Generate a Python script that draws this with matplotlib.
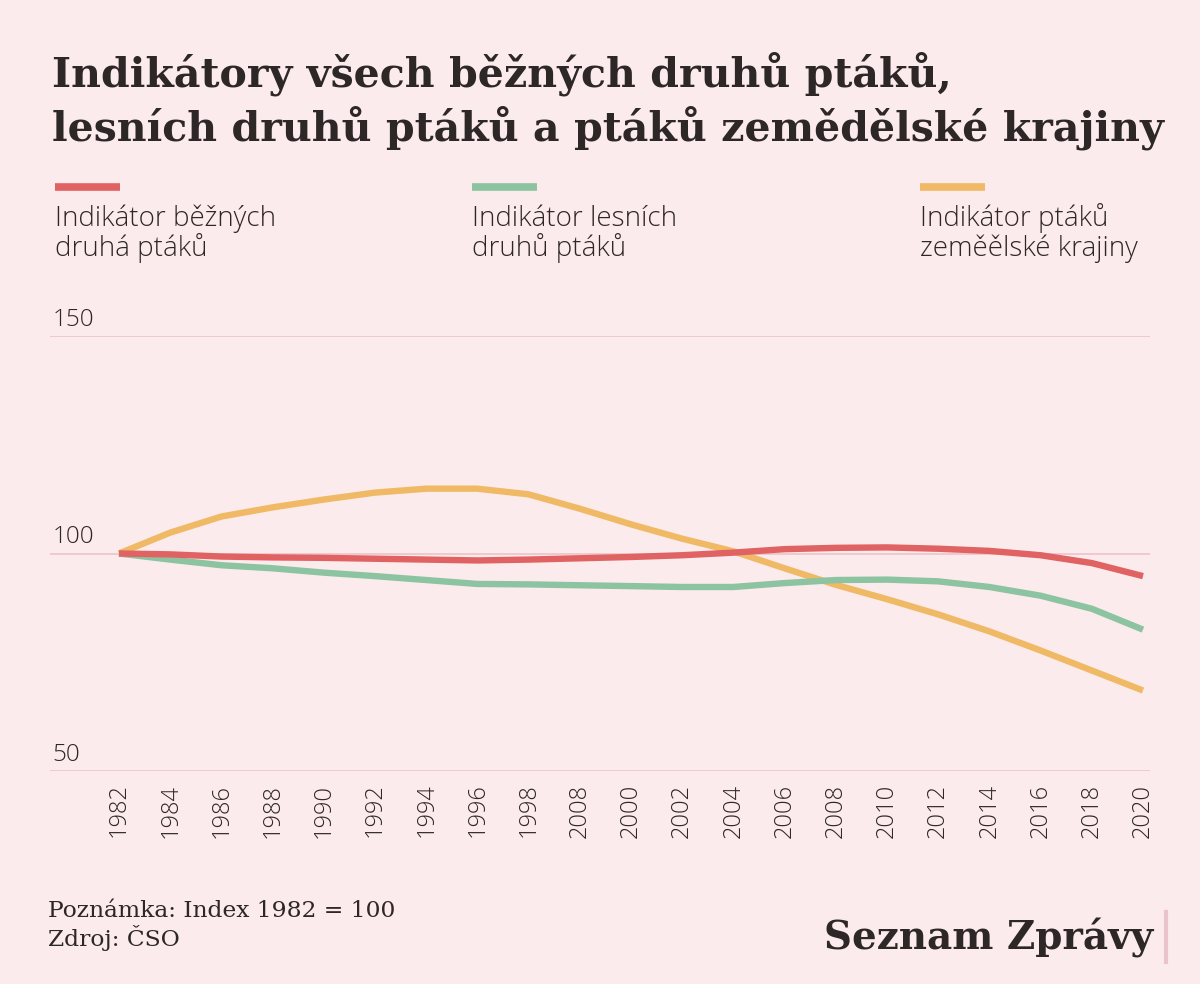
import matplotlib
matplotlib.use("Agg")
import matplotlib.pyplot as plt
from matplotlib.lines import Line2D
import matplotlib.transforms as mtransforms

# ---- data ----
years = ["1982", "1984", "1986", "1988", "1990", "1992", "1994", "1996", "1998", "2008",
         "2000", "2002", "2004", "2006", "2008", "2010", "2012", "2014", "2016", "2018", "2020"]
common_birds = [100, 99.8, 99.3, 99.1, 99.0, 98.8, 98.6, 98.4, 98.6, 98.9,
                99.2, 99.6, 100.2, 101.0, 101.3, 101.4, 101.1, 100.6, 99.6, 97.8, 94.8]
forest_birds = [100, 98.6, 97.3, 96.6, 95.6, 94.8, 93.9, 93.0, 92.9, 92.7,
                92.5, 92.3, 92.3, 93.2, 93.9, 94.0, 93.6, 92.3, 90.3, 87.3, 82.5]
farmland_birds = [100, 104.8, 108.5, 110.6, 112.4, 114.0, 114.9, 114.9, 113.6, 110.3,
                  106.7, 103.4, 100.5, 96.6, 92.8, 89.5, 86.0, 82.1, 77.7, 73.1, 68.5]
series_labels = [["Indikátor běžných", "druhá ptáků"],
                 ["Indikátor lesních", "druhů ptáků"],
                 ["Indikátor ptáků", "zeměělské krajiny"]]
y_ticks = [50, 100, 150]

BG = "#fcebec"
RED = "#e06262"
GREEN = "#8cc3a1"
ORANGE = "#f0b966"
GRID = "#efc6cb"
TEXT = "#2e2727"

W, H = 1200, 984
fig = plt.figure(figsize=(W / 100, H / 100), dpi=100, facecolor=BG)

def fx(px):
    return px / W

def fy(py):
    return 1 - py / H

# axes spanning gridline area
left_px, right_px = 50, 1150
top_px, bot_px = 336, 771
ax = fig.add_axes([fx(left_px), fy(bot_px), fx(right_px - left_px), (bot_px - top_px) / H])
ax.set_facecolor(BG)
x = list(range(len(years)))
step = (1143 - 119) / 20
ax.set_xlim(-(119 - left_px) / step, 20 + (right_px - 1143) / step)
ax.set_ylim(50, 150)
for s in ax.spines.values():
    s.set_visible(False)

blend = mtransforms.blended_transform_factory(ax.transAxes, ax.transData)
for v in y_ticks:
    ax.axhline(v, color=GRID, lw=1.3, zorder=1)
    ax.text(0.002, v + 2.4, str(v), transform=blend, ha="left", va="baseline",
            fontsize=17.5, color=TEXT, fontfamily="Open Sans", fontweight="light")

lw = 4.6
ax.plot(x, farmland_birds, color=ORANGE, lw=lw, solid_capstyle="butt", solid_joinstyle="round", zorder=3, clip_on=False)
ax.plot(x, forest_birds, color=GREEN, lw=lw, solid_capstyle="butt", solid_joinstyle="round", zorder=3, clip_on=False)
ax.plot(x, common_birds, color=RED, lw=lw, solid_capstyle="butt", solid_joinstyle="round", zorder=4, clip_on=False)

ax.set_yticks([])
ax.set_xticks(x)
ax.set_xticklabels(years, rotation=90, fontsize=17, color=TEXT, fontfamily="Open Sans", fontweight="light")
ax.tick_params(axis="x", length=0, pad=9)

# title
title_kw = dict(fontsize=29.6, fontweight="bold", fontfamily="DejaVu Serif", color=TEXT, va="baseline", ha="left")
fig.text(fx(52), fy(86), "Indikátory všech běžných druhů ptáků,", **title_kw)
fig.text(fx(52), fy(141), "lesních druhů ptáků a ptáků zemědělské krajiny", **title_kw)

# legend
leg_x = [55, 472, 920]
colors = [RED, GREEN, ORANGE]
for lx, c, lab in zip(leg_x, colors, series_labels):
    fig.add_artist(Line2D([fx(lx), fx(lx + 65)], [fy(187), fy(187)], color=c, lw=5.5, solid_capstyle="butt"))
    for i, line in enumerate(lab):
        fig.text(fx(lx), fy(226 + 30 * i), line, fontsize=20, color=TEXT, fontfamily="Open Sans",
                 fontweight="light", va="baseline", ha="left")

# footer
foot_kw = dict(fontsize=16.8, fontfamily="DejaVu Serif", color=TEXT, va="baseline", ha="left")
fig.text(fx(48), fy(917), "Poznámka: Index 1982 = 100", **foot_kw)
fig.text(fx(48), fy(946), "Zdroj: ČSO", **foot_kw)
fig.text(fx(1153), fy(950), "Seznam Zprávy", fontsize=28, fontweight="bold", fontfamily="DejaVu Serif",
         color=TEXT, va="baseline", ha="right")
fig.add_artist(Line2D([fx(1166), fx(1166)], [fy(912), fy(962)], color="#e9c5cb", lw=3))

fig.savefig("out.png", dpi=100, facecolor=BG)
